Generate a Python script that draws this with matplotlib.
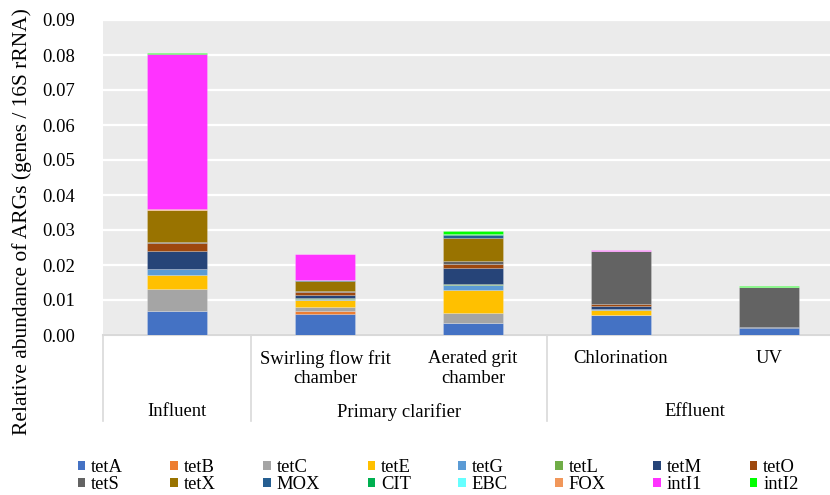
import matplotlib
matplotlib.use('Agg')
from matplotlib import pyplot as plt
from matplotlib.patches import Patch
from matplotlib.ticker import FormatStrFormatter

plt.rcParams['font.family'] = ['Liberation Serif', 'DejaVu Serif']

# samples (x axis, two levels)
samples = ['', 'Swirling flow frit\nchamber', 'Aerated grit\nchamber',
           'Chlorination', 'UV']
groups = ['Influent', 'Primary clarifier', 'Effluent']
group_sizes = [1, 2, 2]

# relative abundance per gene, one value per sample
tetA = [0.0070, 0.0060, 0.0035, 0.0057, 0.0019]
tetB = [0.0000, 0.0009, 0.0000, 0.0000, 0.0000]
tetC = [0.0062, 0.0010, 0.0029, 0.0000, 0.0000]
tetE = [0.0039, 0.0020, 0.0064, 0.0014, 0.0000]
tetG = [0.0017, 0.0005, 0.0015, 0.0002, 0.0000]
tetL = [0.0002, 0.0001, 0.0002, 0.0000, 0.0000]
tetM = [0.0050, 0.0008, 0.0046, 0.0009, 0.0005]
tetO = [0.0024, 0.0011, 0.0013, 0.0007, 0.0000]
tetS = [0.0003, 0.0002, 0.0007, 0.0151, 0.0114]
tetX = [0.0089, 0.0029, 0.0067, 0.0000, 0.0000]
MOX = [0.0001, 0.0001, 0.0007, 0.0000, 0.0000]
CIT = [0.0001, 0.0000, 0.0005, 0.0000, 0.0000]
EBC = [0.0000, 0.0000, 0.0000, 0.0000, 0.0000]
FOX = [0.0002, 0.0002, 0.0000, 0.0000, 0.0000]
intI1 = [0.0444, 0.0073, 0.0000, 0.0003, 0.0000]
intI2 = [0.0002, 0.0000, 0.0008, 0.0000, 0.0003]

genes = ['tetA', 'tetB', 'tetC', 'tetE', 'tetG', 'tetL', 'tetM', 'tetO',
         'tetS', 'tetX', 'MOX', 'CIT', 'EBC', 'FOX', 'intI1', 'intI2']
values = [tetA, tetB, tetC, tetE, tetG, tetL, tetM, tetO,
          tetS, tetX, MOX, CIT, EBC, FOX, intI1, intI2]
colors = ['#4472C4', '#ED7D31', '#A5A5A5', '#FFC000', '#5B9BD5', '#70AD47',
          '#264478', '#9E480E', '#636363', '#997300', '#255E91', '#00B050',
          '#66FFFF', '#F1975A', '#FF33FF', '#00FF00']

fs = 13.4

fig = plt.figure(figsize=(8.3, 4.95), dpi=100)
W, H = 830, 495
ax = fig.add_axes([103 / W, (H - 335) / H, 740 / W, 315 / H])
ax.set_facecolor('#ebebeb')

x = list(range(len(samples)))
bottom = [0.0] * len(samples)
for name, vals, col in zip(genes, values, colors):
    ax.bar(x, vals, width=0.405, bottom=bottom, color=col, label=name,
           edgecolor=(1, 1, 1, 0.35), linewidth=0.4, zorder=3)
    bottom = [b + v for b, v in zip(bottom, vals)]

ax.set_ylim(0, 0.09)
ax.set_xlim(-0.5, len(samples) - 0.5)
ax.set_yticks([i * 0.01 for i in range(10)])
ax.yaxis.set_major_formatter(FormatStrFormatter('%.2f'))
ax.grid(axis='y', color='white', linewidth=1.6, zorder=0)
ax.tick_params(axis='y', length=0, pad=20, labelsize=fs)
ax.set_xticks([])
for s in ['top', 'right', 'left']:
    ax.spines[s].set_visible(False)
ax.spines['bottom'].set_color('#d9d9d9')
ax.spines['bottom'].set_linewidth(1.5)

# two-level category axis
tr = ax.get_xaxis_transform()
for xi, lab in zip(x, samples):
    ax.text(xi, -15 / 315, lab, transform=tr, ha='center', va='top',
            fontsize=fs, linespacing=1.2)
start = 0
edges = [-0.5]
for g, n in zip(groups, group_sizes):
    ax.text(start + (n - 1) / 2, -77 / 315, g, transform=tr, ha='center',
            va='center', fontsize=fs)
    start += n
    edges.append(start - 0.5)
for e in edges:
    ax.plot([e, e], [0, -86 / 315], transform=tr, color='#d9d9d9',
            linewidth=1.2, clip_on=False)

fig.text(22 / W, 1 - 222 / H, 'Relative abundance of ARGs (genes / 16S rRNA)',
         rotation=90, ha='center', va='center', fontsize=15.5)

# legend filled row by row, 8 per row
handles = [Patch(facecolor=c, label=g) for g, c in zip(genes, colors)]
order = []
for i in range(8):
    order += [i, i + 8]
fig.legend([handles[i] for i in order], [genes[i] for i in order],
           ncol=8, loc='center', bbox_to_anchor=(438 / W, 1 - 476 / H),
           frameon=False, fontsize=fs, handlelength=0.42,
           handleheight=0.42, handletextpad=0.3, columnspacing=2.55,
           labelspacing=0.0, borderpad=0)

fig.savefig('out.png', dpi=100)
